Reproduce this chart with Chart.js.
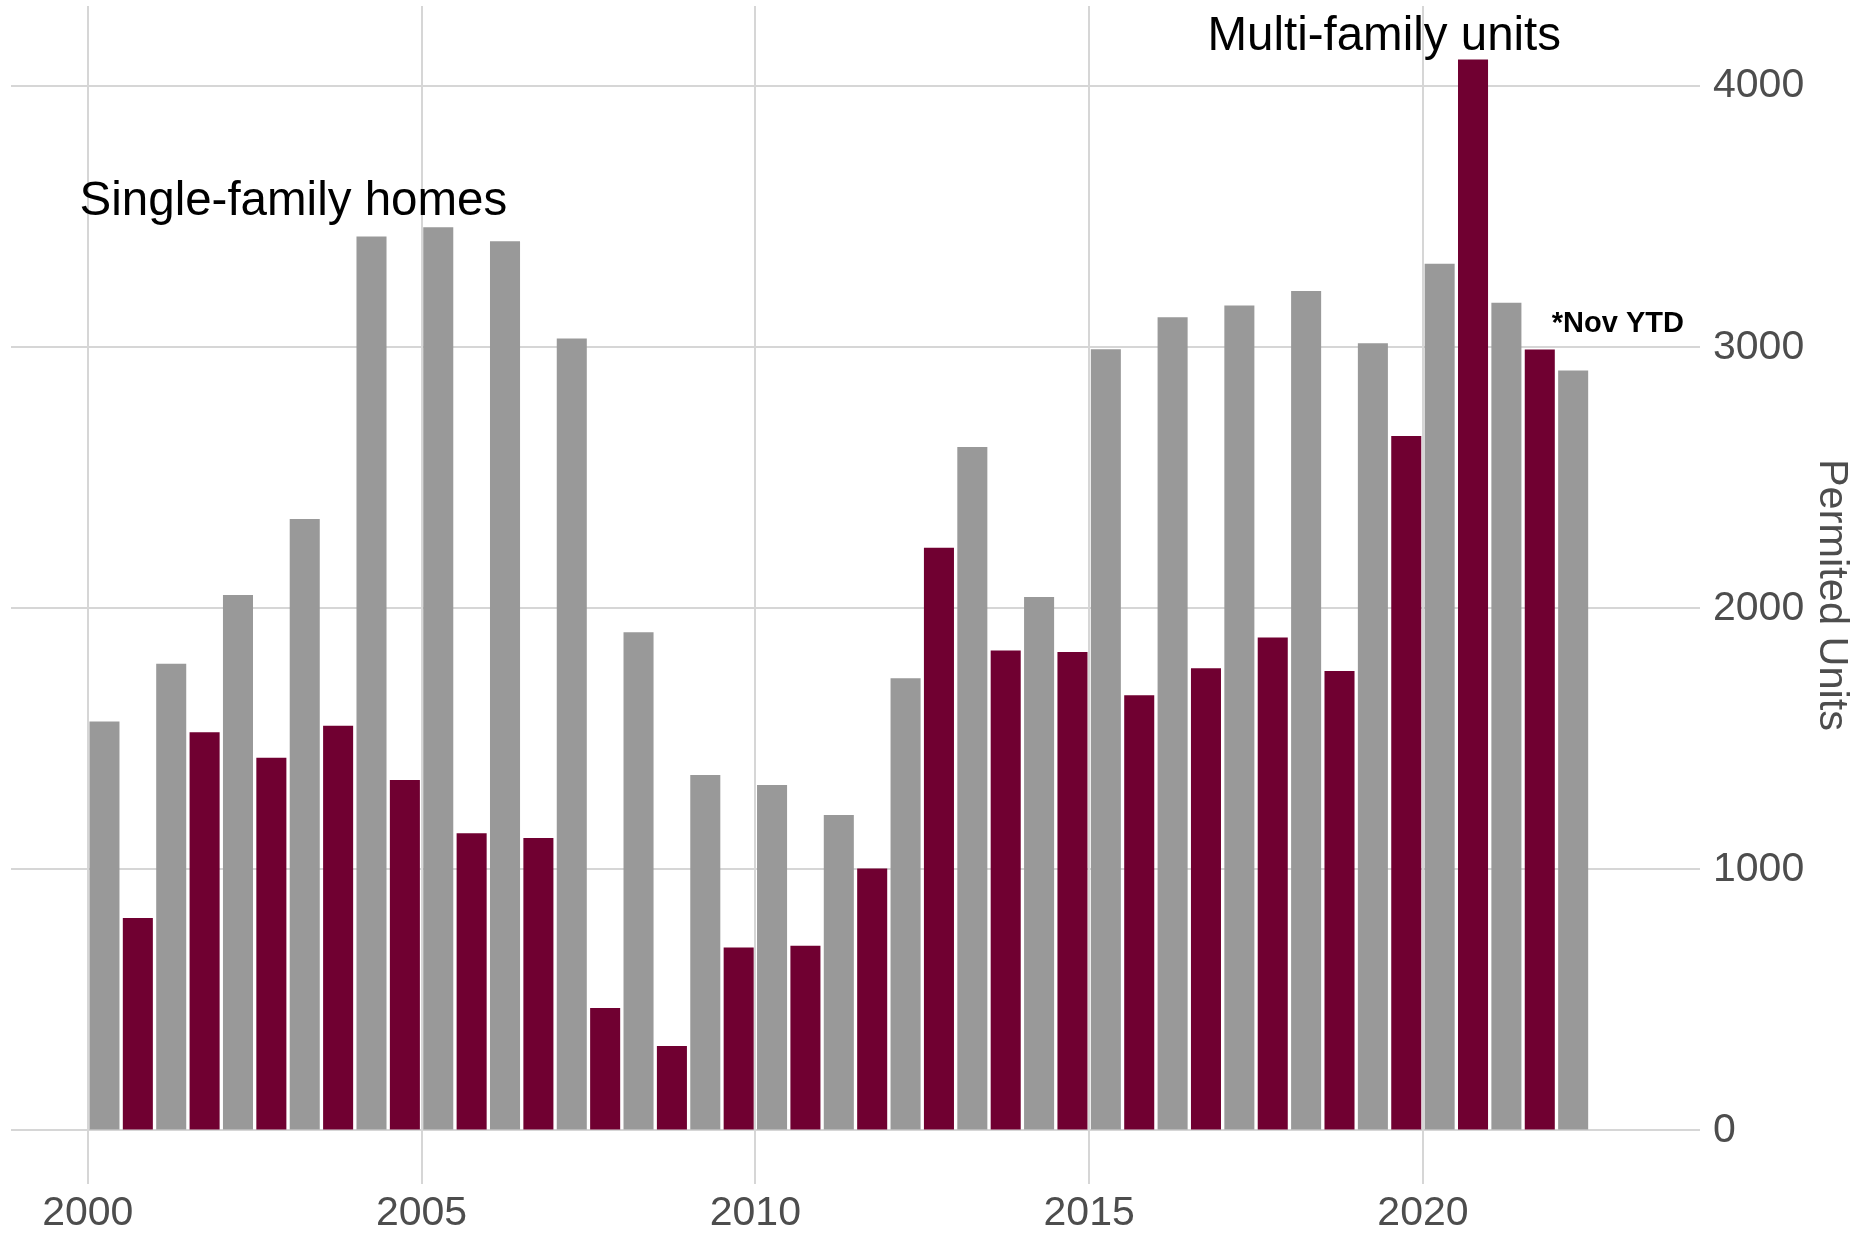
<!DOCTYPE html>
<html>
<head>
<meta charset="utf-8">
<script src="https://cdn.jsdelivr.net/npm/chart.js@4"></script>
<style>
  html, body { margin: 0; padding: 0; background: #ffffff; }
  canvas { display: block; }
</style>
</head>
<body>
<canvas id="permitsChart" width="1860" height="1234"></canvas>
<script>
// permitted units per year
const years = [2000, 2001, 2002, 2003, 2004, 2005, 2006, 2007, 2008, 2009, 2010, 2011,
               2012, 2013, 2014, 2015, 2016, 2017, 2018, 2019, 2020, 2021, 2022];
const singleFamily = [1566, 1788, 2051, 2342, 3424, 3460, 3406, 3033, 1908, 1362, 1323, 1208,
                      1732, 2618, 2043, 2992, 3115, 3160, 3215, 3015, 3320, 3170, 2911];
const multiFamily = [814, 1525, 1428, 1550, 1342, 1138, 1120, 469, 324, 701, 708, 1003,
                     2232, 1838, 1833, 1667, 1770, 1888, 1760, 2660, 4102, 2991, null];
const xTicks = [2000, 2005, 2010, 2015, 2020];
const yTicks = [0, 1000, 2000, 3000, 4000];
const yTitle = 'Permited Units';

const FONT = "'Liberation Sans', Arial, Helvetica, sans-serif";
const GRID = '#d6d6d6';
const TICK_COLOR = '#4d4d4d';

// text notes on the plot, anchored in data units
const notesPlugin = {
    id: 'notes',
    afterDatasetsDraw(chart, args, opts) {
        const ctx = chart.ctx;
        const xs = chart.scales.x, ys = chart.scales.y;
        ctx.save();
        opts.items.forEach(n => {
            ctx.font = (n.bold ? 'bold ' : '') + n.size + 'px ' + FONT;
            ctx.fillStyle = '#000000';
            ctx.textAlign = 'center';
            ctx.textBaseline = 'alphabetic';
            ctx.fillText(n.text, xs.getPixelForValue(n.x), ys.getPixelForValue(n.y));
        });
        ctx.restore();
    }
};

const toPoints = vals => years.map((yr, i) => ({ x: yr + 0.5, y: vals[i] }));

new Chart(document.getElementById('permitsChart').getContext('2d'), {
    type: 'bar',
    data: {
        datasets: [
            { label: 'Single-family homes', data: toPoints(singleFamily), backgroundColor: '#999999' },
            { label: 'Multi-family units', data: toPoints(multiFamily), backgroundColor: '#700031' }
        ]
    },
    options: {
        responsive: false,
        animation: false,
        datasets: { bar: { categoryPercentage: 1, barPercentage: 0.9 } },
        layout: { padding: { left: 11, top: 6, right: 0, bottom: 0 } },
        plugins: {
            legend: { display: false },
            tooltip: { enabled: false },
            notes: {
                items: [
                    { text: 'Single-family homes', x: 2003.08, y: 3508, size: 47.5 },
                    { text: 'Multi-family units', x: 2019.42, y: 4140, size: 47.5 },
                    { text: '*Nov YTD', x: 2022.92, y: 3060, size: 29, bold: true }
                ]
            }
        },
        scales: {
            x: {
                type: 'linear',
                min: 1998.85,
                max: 2024.15,
                offset: false,
                grid: { color: GRID, lineWidth: 2, drawTicks: false, offset: false },
                border: { display: false },
                afterBuildTicks: s => { s.ticks = xTicks.map(v => ({ value: v })); },
                afterFit: s => { s.height = 50; s.paddingLeft = 0; s.paddingRight = 0; },
                ticks: {
                    font: { family: FONT, size: 41 },
                    color: TICK_COLOR,
                    padding: 5,
                    maxRotation: 0,
                    callback: v => String(v)
                }
            },
            y: {
                position: 'right',
                min: -205,
                max: 4307,
                grid: { color: GRID, lineWidth: 2, drawTicks: false },
                border: { display: false },
                title: {
                    display: true,
                    text: yTitle,
                    color: TICK_COLOR,
                    font: { family: FONT, size: 41.5 },
                    padding: { top: 4, bottom: 0 }
                },
                afterBuildTicks: s => { s.ticks = yTicks.map(v => ({ value: v })); },
                afterFit: s => { s.width = 160; s.paddingTop = 0; s.paddingBottom = 0; },
                ticks: {
                    font: { family: FONT, size: 41 },
                    color: TICK_COLOR,
                    padding: 13,
                    callback: v => String(v)
                }
            }
        }
    },
    plugins: [notesPlugin]
});
</script>
</body>
</html>
